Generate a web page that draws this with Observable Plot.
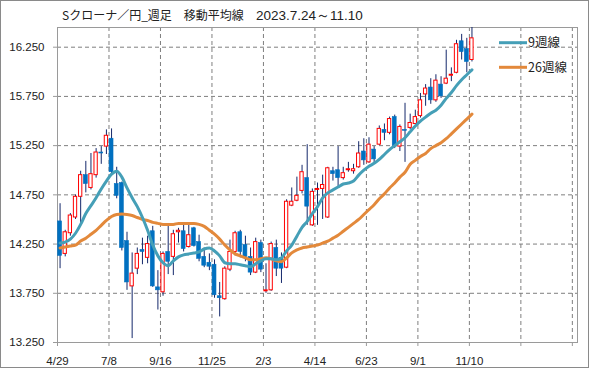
<!DOCTYPE html>
<html><head><meta charset="utf-8">
<script src="https://cdn.jsdelivr.net/npm/d3@7"></script>
<script src="https://cdn.jsdelivr.net/npm/@observablehq/plot@0.6"></script>
<style>
html,body{margin:0;padding:0;background:#fff;}
#chart{width:599px;height:369px;}
</style></head><body><div id="chart"></div>
<script>
const titleMain = "Sクローナ／円_週足　移動平均線　";
const titleDate = "2023.7.24～11.10";
const xTickLabels = ["4/29","7/8","9/16","11/25","2/3","4/14","6/23","9/1","11/10"];
const yTicks = [13.25,13.75,14.25,14.75,15.25,15.75,16.25];
const seriesNames = ["9週線","26週線"];
const seriesColors = ["#459FB7","#E3893B"];

const open = [14.48,14.15,14.36,14.52,14.73,14.95,14.82,14.95,15.18,15.24,
  15.32,14.86,14.87,14.28,13.82,14.00,14.19,14.11,14.38,13.81,
  13.76,14.17,14.12,14.37,14.38,14.22,14.41,14.27,14.12,14.06,
  14.04,13.72,13.69,13.99,14.17,14.37,14.24,14.12,13.96,14.26,
  13.77,13.78,14.21,14.11,14.01,14.64,14.69,14.79,14.92,14.44,
  14.80,14.81,14.52,14.99,15.00,14.92,15.00,14.99,15.03,15.19,
  15.08,15.21,15.26,15.41,15.38,15.54,15.24,15.41,15.43,15.47,
  15.55,15.77,15.84,15.71,15.87,15.88,15.96,15.99,16.31,16.23,16.12];
const high = [14.66,14.39,14.56,14.75,14.99,15.09,15.17,15.22,15.24,15.41,
  15.42,15.03,14.88,14.37,14.16,14.21,14.31,14.33,14.43,13.98,
  14.17,14.43,14.39,14.41,14.44,14.44,14.42,14.34,14.21,14.15,
  14.09,13.86,14.02,14.29,14.38,14.39,14.33,14.21,14.31,14.29,
  14.05,14.27,14.29,14.16,14.70,14.82,14.93,15.05,15.26,14.81,
  14.87,14.95,15.03,15.03,15.24,15.03,15.08,15.06,15.29,15.32,
  15.33,15.24,15.45,15.47,15.54,15.56,15.46,15.68,15.57,15.61,
  15.78,15.87,15.93,15.97,15.95,16.22,16.04,16.32,16.38,16.34,16.45];
const low = [14.00,14.12,14.33,14.50,14.44,14.77,14.80,14.92,15.06,15.16,
  14.95,14.71,14.18,13.78,13.29,13.94,14.04,14.05,13.81,13.58,
  13.72,13.94,13.93,14.26,14.17,14.21,14.22,14.07,14.01,13.98,
  13.70,13.51,13.68,13.97,14.13,14.11,14.07,13.93,13.95,13.96,
  13.75,13.77,13.92,13.85,14.00,14.63,14.68,14.76,14.44,14.43,
  14.44,14.50,14.51,14.89,14.82,14.90,14.98,14.96,15.02,15.05,
  15.07,15.07,15.25,15.30,15.36,15.22,15.19,15.08,15.41,15.46,
  15.53,15.65,15.67,15.69,15.73,15.87,15.90,15.98,16.12,15.99,16.10];
const close = [14.13,14.37,14.54,14.73,14.95,14.86,14.96,15.18,15.17,15.35,
  14.98,14.74,14.21,13.86,13.95,14.15,14.17,14.25,13.82,13.78,
  14.15,14.07,14.35,14.385,14.20,14.34,14.23,14.10,14.03,14.02,
  13.73,13.70,14.00,14.17,14.36,14.17,14.12,13.96,14.27,13.99,
  13.78,14.25,14.00,14.00,14.68,14.68,14.74,14.98,14.63,14.78,
  14.81,14.85,15.02,14.96,14.92,14.97,15.01,15.01,15.17,15.10,
  15.26,15.11,15.42,15.38,15.52,15.24,15.44,15.40,15.48,15.54,
  15.71,15.83,15.71,15.91,15.75,15.93,15.97,16.28,16.20,16.10,16.34];
const ma9 = [14.26,14.27,14.30,14.36,14.45,14.56,14.64,14.72,14.81,14.89,
  14.96,14.99,14.93,14.82,14.72,14.63,14.52,14.39,14.24,14.13,
  14.06,14.03,14.08,14.12,14.14,14.15,14.16,14.17,14.20,14.21,
  14.18,14.13,14.06,14.05,14.05,14.04,14.03,14.02,14.05,14.08,
  14.10,14.10,14.09,14.11,14.18,14.24,14.33,14.42,14.48,14.56,
  14.63,14.72,14.77,14.80,14.83,14.86,14.87,14.89,14.95,15.00,
  15.04,15.07,15.11,15.16,15.21,15.25,15.29,15.33,15.39,15.45,
  15.50,15.54,15.58,15.61,15.66,15.73,15.79,15.86,15.92,15.97,16.02];
const ma26 = [14.21,14.22,14.23,14.24,14.28,14.31,14.35,14.39,14.44,14.49,
  14.53,14.55,14.555,14.55,14.54,14.52,14.50,14.49,14.47,14.46,
  14.45,14.45,14.45,14.46,14.46,14.46,14.46,14.45,14.43,14.39,
  14.35,14.30,14.24,14.19,14.15,14.13,14.11,14.09,14.09,14.10,
  14.11,14.10,14.08,14.07,14.11,14.16,14.19,14.21,14.22,14.23,
  14.24,14.26,14.28,14.31,14.34,14.38,14.42,14.46,14.50,14.55,
  14.60,14.65,14.71,14.76,14.82,14.87,14.93,14.98,15.06,15.10,
  15.14,15.17,15.22,15.25,15.28,15.32,15.37,15.42,15.47,15.52,15.57];

const candles = open.map((o, i) => ({x: i + 0.5, o, h: high[i], l: low[i], c: close[i]}));
const ups = candles.filter(d => d.c >= d.o);
const downs = candles.filter(d => d.c < d.o);
const maRows = ma9.map((v, i) => ({x: i + 0.5, ma9: v, ma26: ma26[i]}));

const plot = Plot.plot({
  width: 599, height: 369,
  marginLeft: 57, marginRight: 22, marginTop: 27, marginBottom: 27,
  style: {fontFamily: "'Liberation Sans', Arial, sans-serif", fontSize: "11.5px", background: "#fff", color: "#222"},
  x: {type: "linear", domain: [0, 101], label: null},
  y: {domain: [13.25, 16.45], label: null},
  marks: [
    Plot.ruleY(yTicks.slice(1), {stroke: "#7f7f7f", strokeDasharray: "4,3"}),
    Plot.ruleX(d3.range(10, 101, 10), {stroke: "#7f7f7f", strokeDasharray: "4,3"}),
    Plot.frame({stroke: "#9a9a9a"}),
    Plot.ruleX(candles, {x: "x", y1: "l", y2: "h", stroke: "#14286b"}),
    Plot.rect(downs, {x1: d => d.x - 0.38, x2: d => d.x + 0.38, y1: "o", y2: "c", fill: "#0070C0", stroke: "#0070C0", strokeWidth: 0.6}),
    Plot.rect(ups, {x1: d => d.x - 0.32, x2: d => d.x + 0.32, y1: "o", y2: "c", fill: "#fff", stroke: "#FF0000", strokeWidth: 1}),
    Plot.line(maRows, {x: "x", y: "ma26", stroke: seriesColors[1], strokeWidth: 3, curve: "monotone-x"}),
    Plot.line(maRows, {x: "x", y: "ma9", stroke: seriesColors[0], strokeWidth: 3, curve: "monotone-x"}),
    Plot.axisY({ticks: yTicks, tickFormat: d => d.toFixed(3), tickSize: 4, tickPadding: 9, stroke: "#9a9a9a", fill: "#222", label: null}),
    Plot.axisX({ticks: d3.range(0, 101, 10), tickFormat: d => xTickLabels[d / 10] ?? "", tickSize: 4, tickPadding: 10, stroke: "#9a9a9a", fill: "#222", label: null})
  ]
});
document.getElementById("chart").appendChild(plot);

const svg = d3.select(plot);
svg.append("rect").attr("x", 0.5).attr("y", 0.5).attr("width", 588).attr("height", 367)
  .attr("fill", "none").attr("stroke", "#8a8a8a");
const t = svg.append("text").attr("x", 62).attr("y", 19.5).attr("text-anchor", "start").attr("fill", "#222");
t.append("tspan").attr("font-family", "'Noto Sans CJK JP', sans-serif").attr("font-size", 12).text(titleMain);
t.append("tspan").attr("font-family", "'Liberation Sans', Arial, sans-serif").attr("font-size", 13.5).text(titleDate);
seriesNames.forEach((name, k) => {
  const y = 42.7 + k * 24.6;
  svg.append("line").attr("x1", 499).attr("x2", 527).attr("y1", y).attr("y2", y)
    .attr("stroke", seriesColors[k]).attr("stroke-width", 3);
  svg.append("text").attr("x", 528).attr("y", y).attr("dy", "0.36em").attr("text-anchor", "start")
    .attr("font-family", "'Noto Sans CJK JP', sans-serif").attr("font-size", 12.5).attr("fill", "#222")
    .text(name);
});
</script></body></html>
